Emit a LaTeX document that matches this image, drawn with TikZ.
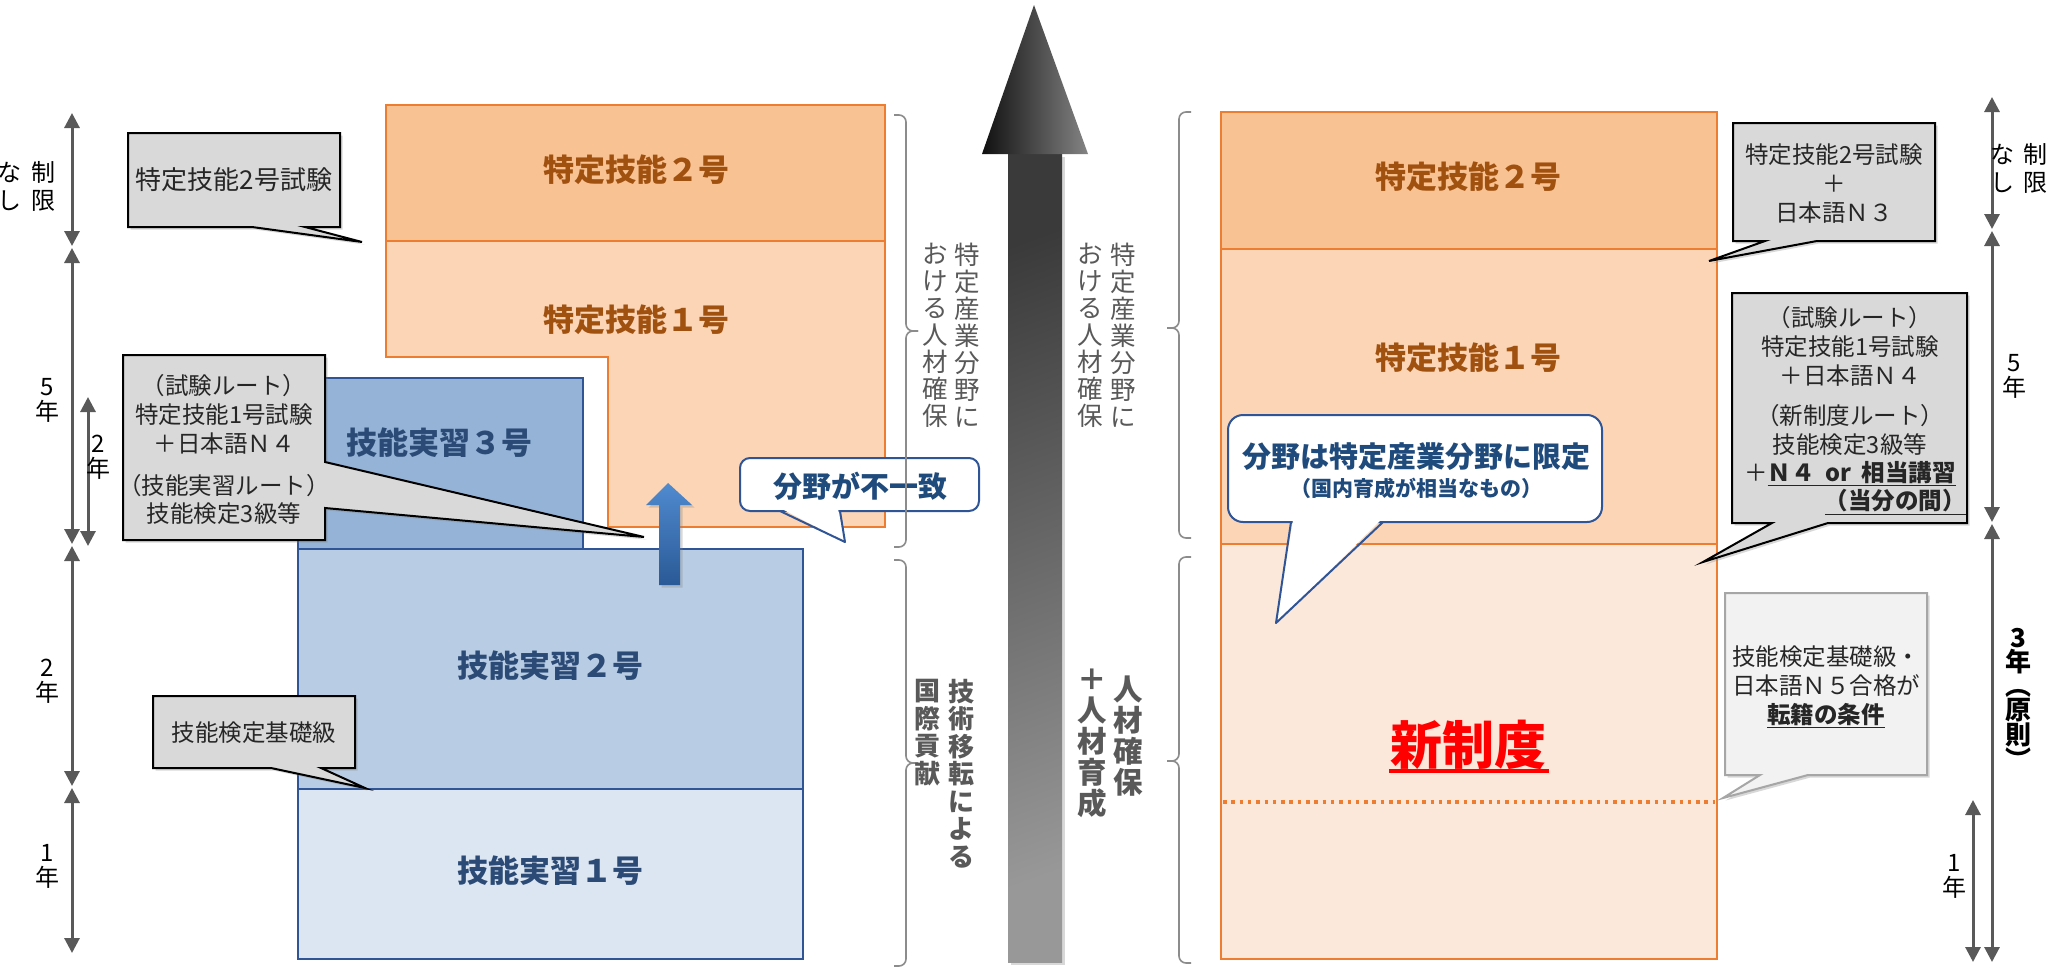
\documentclass[tikz,border=0pt]{standalone}
\usepackage{fontspec}
\setmainfont{Noto Sans CJK JP}
\usetikzlibrary{arrows.meta,shadows}
\definecolor{orline}{HTML}{ED7D31}
\definecolor{orA}{HTML}{F8C292}
\definecolor{orB}{HTML}{FBD5B5}
\definecolor{orC}{HTML}{FCE8DA}
\definecolor{ortext}{HTML}{A0500F}
\definecolor{blA}{HTML}{95B3D7}
\definecolor{blB}{HTML}{B8CCE4}
\definecolor{blC}{HTML}{DCE6F2}
\definecolor{blline}{HTML}{2F5597}
\definecolor{blarrowtop}{HTML}{508AD0}
\definecolor{blarrowbot}{HTML}{2A5A96}
\definecolor{bltext}{HTML}{2B4A75}
\definecolor{cotext}{HTML}{1F4A7C}
\definecolor{scalegray}{HTML}{595959}
\definecolor{brk}{HTML}{8C8C8C}
\definecolor{cgray}{HTML}{D9D9D9}
\definecolor{clight}{HTML}{F2F2F2}
\definecolor{cborder}{HTML}{A6A6A6}
\definecolor{vtext}{HTML}{595959}
\definecolor{ctxt}{HTML}{262626}
\definecolor{arA}{HTML}{3A3A3A}
\definecolor{arB}{HTML}{989898}
\definecolor{arC}{HTML}{101010}
\definecolor{arD}{HTML}{848484}
\tikzset{
  obox/.style={draw=orline, line width=2.5pt},
  bbox/.style={draw=blline, line width=2pt},
  olabel/.style={font=\fontsize{31}{31}\selectfont\bfseries, text=ortext, inner sep=0pt},
  blabel/.style={font=\fontsize{31}{31}\selectfont\bfseries, text=bltext, inner sep=0pt},
  dimarrow/.style={draw=scalegray, line width=3pt, {Triangle[length=15pt,width=15pt]}-{Triangle[length=15pt,width=15pt]}},
  dimlabel/.style={font=\fontsize{24}{25}\selectfont, align=center, inner sep=0pt},
  brace/.style={draw=brk, line width=1.6pt, rounded corners=7pt},
  vcol/.style={font=\fontsize{25.5}{27}\selectfont, text=vtext, align=center, inner sep=0pt, anchor=north},
  vbold/.style={font=\fontsize{26}{27.5}\selectfont\bfseries, text=vtext, align=center, inner sep=0pt, anchor=north},
  vbig/.style={font=\fontsize{29.5}{31}\selectfont\bfseries, text=vtext, align=center, inner sep=0pt, anchor=north},
  shad/.style={drop shadow={opacity=0.3, shadow xshift=2.5pt, shadow yshift=-2.5pt}},
  callg/.style={fill=cgray, draw=black, line width=2pt, shad},
  calll/.style={fill=clight, draw=cborder, line width=2pt, shad},
  callb/.style={fill=white, draw=blline, line width=2pt},
  ctext/.style={font=\fontsize{23.5}{29}\selectfont, text=ctxt, align=center, inner sep=0pt},
  btext/.style={font=\fontsize{29}{29}\selectfont\bfseries, text=cotext, inner sep=0pt},
}
\begin{document}
\begin{tikzpicture}[x=1pt,y=-1pt]
\useasboundingbox (0,0) rectangle (2059,969);
\fill[white] (0,0) rectangle (2059,969);

% ---------------- left orange (current tokutei) ----------------
\path[obox, fill=orA] (386,105) rectangle (885,241);
\path[obox, fill=orB] (386,241) -- (885,241) -- (885,527) -- (608,527) -- (608,357) -- (386,357) -- cycle;
\node[olabel] (lt2) at (636,170) {特定技能２号};
\node[olabel] (lt1) at (636,320) {特定技能１号};

% ---------------- left blue (technical intern) ----------------
\path[bbox, fill=blA] (298,378) rectangle (583,549);
\path[bbox, fill=blB] (298,549) rectangle (803,789);
\path[bbox, fill=blC] (298,789) rectangle (803,959);
\node[blabel] (gj3) at (439,443) {技能実習３号};
\node[blabel] (gj2) at (550,666) {技能実習２号};
\node[blabel] (gj1) at (550,871) {技能実習１号};

% small blue arrow
\path[shad, top color=blarrowtop, bottom color=blarrowbot]
  (659,585) -- (659,505) -- (646,505) -- (668,483) -- (692,505) -- (680,505) -- (680,585) -- cycle;

% ---------------- left callouts ----------------
\coordinate (tipA) at (362,242);
\path[callg] (128,133) -- (340,133) -- (340,227) -- (305,227) -- (tipA) -- (252,227) -- (128,227) -- cycle;
\node[ctext, font=\fontsize{26}{29}\selectfont] (cA) at (234,180) {特定技能2号試験};

\coordinate (tipB) at (644,537);
\path[callg] (123,355) -- (325,355) -- (325,462) -- (tipB) -- (325,508) -- (325,540) -- (123,540) -- cycle;
\node[ctext] (cB1) at (224,414) {（試験ルート）\\特定技能1号試験\\＋日本語Ｎ４};
\node[ctext, font=\fontsize{23.5}{28}\selectfont] (cB2) at (224,499) {（技能実習ルート）\\技能検定3級等};

\coordinate (tipC) at (365,788);
\path[callg] (153,696) -- (355,696) -- (355,768) -- (321,768) -- (tipC) -- (271,768) -- (153,768) -- cycle;
\node[ctext] (cC) at (254,733) {技能検定基礎級};

% mismatch callout
\coordinate (tipD) at (845,542);
\path[callb, rounded corners=10pt] (740,458) rectangle (979,511);
\fill[white] (782,509) -- (tipD) -- (838,509) -- cycle;
\draw[blline, line width=2pt, line join=round] (780,511) -- (tipD) -- (840,511);
\node[btext] (cD) at (860,486) {分野が不一致};

% ---------------- scales left ----------------
\draw[dimarrow] (72,113) -- (72,246);
\draw[dimarrow] (72,248) -- (72,544);
\draw[dimarrow] (72,546) -- (72,786);
\draw[dimarrow] (72,788) -- (72,953);
\draw[dimarrow] (88,397) -- (88,546);
\node[dimlabel, font=\fontsize{24}{28}\selectfont] (lsA) at (43,186) {制\\限};
\node[dimlabel, font=\fontsize{24}{28}\selectfont] (lsB) at (10,186) {な\\し};
\node[dimlabel] (ls5) at (47,400) {5\\年};
\node[dimlabel] (ls2s) at (98,457) {2\\年};
\node[dimlabel] (ls2) at (47,681) {2\\年};
\node[dimlabel] (ls1) at (47,866) {1\\年};

% ---------------- braces ----------------
\draw[brace] (894,115) -- (906,115) -- (906,331) -- (918,331);
\draw[brace] (918,331) -- (906,331) -- (906,547) -- (894,547);
\draw[brace] (894,560) -- (906,560) -- (906,763) -- (918,763);
\draw[brace] (918,763) -- (906,763) -- (906,966) -- (894,966);
\draw[brace] (1191,112) -- (1179,112) -- (1179,328) -- (1167,328);
\draw[brace] (1167,328) -- (1179,328) -- (1179,538) -- (1191,538);
\draw[brace] (1191,557) -- (1179,557) -- (1179,761) -- (1167,761);
\draw[brace] (1167,761) -- (1179,761) -- (1179,963) -- (1191,963);

% vertical texts
\node[vcol] (vL1) at (967,243) {特\\定\\産\\業\\分\\野\\に};
\node[vcol] (vL2) at (935,243) {お\\け\\る\\人\\材\\確\\保};
\node[vcol] (vM1) at (1123,243) {特\\定\\産\\業\\分\\野\\に};
\node[vcol] (vM2) at (1090,243) {お\\け\\る\\人\\材\\確\\保};
\node[vbold] (vL3) at (961,679) {技\\術\\移\\転\\に\\よ\\る};
\node[vbold] (vL4) at (927,679) {国\\際\\貢\\献};
\node[vbig] (vM3) at (1128,676) {人\\材\\確\\保};
\node[vbig] (vM4) at (1092,669) {＋\\人\\材\\育\\成};

% ---------------- big arrow ----------------
\path[shad, shading=axis, top color=arA, bottom color=arB, shading angle=20]
  (1008,154) rectangle (1062,962);
\path[left color=arC, right color=arD]
  (982,154) -- (1034,5) -- (1088,154) -- cycle;

% ---------------- right orange (new system) ----------------
\path[obox, fill=orA] (1221,112) rectangle (1717,249);
\path[obox, fill=orB] (1221,249) rectangle (1717,544);
\path[obox, fill=orC] (1221,544) rectangle (1717,959);
\draw[orline, line width=3.5pt, dash pattern=on 3.5pt off 4.8pt] (1223,802) -- (1715,802);
\node[olabel] (rt2) at (1468,177) {特定技能２号};
\node[olabel] (rt1) at (1468,358) {特定技能１号};
\node[font=\fontsize{52}{52}\selectfont\bfseries, text=red, inner sep=0pt] (nsd) at (1468,745) {新制度};
\draw[red, line width=3.5pt] (1389,771) -- (1549,771);

% limited-field callout
\coordinate (tipE) at (1276,623);
\path[callb, rounded corners=15pt] (1228,415) rectangle (1602,522);
\fill[white] (1293,520) -- (tipE) -- (1381,520) -- cycle;
\draw[blline, line width=2pt, line join=round] (1291,522) -- (tipE) -- (1383,522);
\node[btext] (cE1) at (1416,457) {分野は特定産業分野に限定};
\node[btext, font=\fontsize{21}{21}\selectfont\bfseries] (cE2) at (1416,488) {（国内育成が相当なもの）};

% right callouts
\coordinate (tipF) at (1709,261);
\path[callg] (1733,123) -- (1935,123) -- (1935,241) -- (1817,241) -- (tipF) -- (1765,241) -- (1733,241) -- cycle;
\node[ctext] (cF) at (1834,184) {特定技能2号試験\\＋\\日本語Ｎ３};

\coordinate (tipG) at (1703,562);
\path[callg] (1732,293) -- (1967,293) -- (1967,523) -- (1828,523) -- (tipG) -- (1772,523) -- (1732,523) -- cycle;
\node[ctext] (cG1) at (1850,346) {（試験ルート）\\特定技能1号試験\\＋日本語Ｎ４};
\node[ctext] (cG2) at (1850,430) {（新制度ルート）\\技能検定3級等};
\node[ctext] (cG3) at (1850,474) {＋\underline{\textbf{Ｎ４\ \ or\ \ 相当講習}}};
\node[ctext, anchor=east] (cG4) at (1966,502) {\underline{\textbf{（当分の間）}}};

\coordinate (tipH) at (1723,798);
\path[calll] (1725,593) -- (1927,593) -- (1927,775) -- (1808,775) -- (tipH) -- (1760,775) -- (1725,775) -- cycle;
\node[ctext] (cH) at (1826,687) {技能検定基礎級・\\日本語Ｎ５合格が\\\underline{\textbf{転籍の条件}}};

% ---------------- scales right ----------------
\draw[dimarrow] (1992,97) -- (1992,229);
\draw[dimarrow] (1992,231) -- (1992,522);
\draw[dimarrow] (1992,524) -- (1992,962);
\draw[dimarrow] (1973,800) -- (1973,962);
\node[dimlabel, font=\fontsize{24}{28}\selectfont] (rsA) at (2035,168) {制\\限};
\node[dimlabel, font=\fontsize{24}{28}\selectfont] (rsB) at (2002,168) {な\\し};
\node[dimlabel] (rs5) at (2014,376) {5\\年};
\node[dimlabel] (rs1) at (1954,876) {1\\年};
\node[dimlabel, font=\fontsize{26}{24}\selectfont\bfseries] (rs3) at (2018,699) {3\\年\\︵\\原\\則\\︶};
\end{tikzpicture}
\end{document}
